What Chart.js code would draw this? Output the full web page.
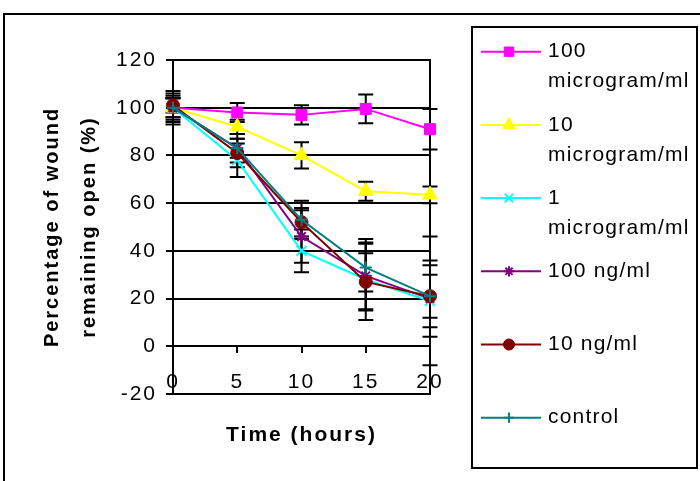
<!DOCTYPE html>
<html>
<head>
<meta charset="utf-8">
<script src="https://cdn.jsdelivr.net/npm/chart.js@4"></script>
<style>
  html, body { margin: 0; padding: 0; background: #fff; }
  #wrap { width: 700px; height: 481px; }
</style>
</head>
<body>
<div id="wrap"><canvas id="graficoFerida" width="700" height="481"></canvas></div>
<script>
// time points (hours)
const times = [0, 5, 10, 15, 20];

// % wound remaining open
const ug100 = [100, 98, 97, 99.5, 91];
const ug10 = [100, 92, 80, 65, 63.5];
const ug1 = [100, 78, 40, 28, 19];
const ng100 = [100, 83, 46, 29.5, 20];
const ng10 = [101, 81, 52, 27, 21];
const control = [100, 83, 53, 33, 21];

// error bar half widths
const ug100Err = [4, 4, 4, 6, 8.5];
const ug10Err = [4, 3, 5.5, 4, 3.5];
const ug1Err = [6, 7, 9, 17, 27];
const ng100Err = [5, 6, 11, 14, 16];
const ng10Err = [3, 6, 6, 12, 13];
const controlErr = [7, 4, 8, 10, 9];

const seriesNames = [
  ["100", "microgram/ml"],
  ["10", "microgram/ml"],
  ["1", "microgram/ml"],
  ["100 ng/ml"],
  ["10 ng/ml"],
  ["control"]
];

const yTitle = ["Percentage of wound", "remaining open (%)"];
const xTitle = "Time (hours)";

const values = [ug100, ug10, ug1, ng100, ng10, control];
const errors = [ug100Err, ug10Err, ug1Err, ng100Err, ng10Err, controlErr];

const colors = ["#ff00ff", "#ffff00", "#00ffff", "#800080", "#800000", "#008080"];
const markers = ["rect", "triangle", "crossRot", "star", "circle", "cross"];
const markerSize = [7.8, 8.5, 7, 6, 6.5, 6];
const markerBorder = [1, 1, 2, 2, 1, 2];

const fontFamily = "'Liberation Sans', Arial, sans-serif";
Chart.defaults.color = "#000";
Chart.defaults.font.family = fontFamily;

const datasets = values.map((vals, i) => ({
  label: seriesNames[i].join(" "),
  data: times.map((t, k) => ({ x: t, y: vals[k] })),
  borderColor: colors[i],
  backgroundColor: colors[i],
  borderWidth: 2,
  pointStyle: markers[i],
  pointRadius: markerSize[i],
  pointBorderWidth: markerBorder[i],
  pointBackgroundColor: colors[i],
  pointBorderColor: colors[i],
  order: values.length - 1 - i,
  clip: false,
  tension: 0
}));

// letter spacing for the axis texts, the old Excel render is wide
const spacing = {
  id: "spacing",
  beforeDraw(chart) {
    chart.ctx.letterSpacing = "2px";
  }
};

// plot frame + outer frame, then the error bars under the lines
const errorBars = {
  id: "errorBars",
  beforeDatasetsDraw(chart) {
    const { ctx, chartArea, scales: { x, y } } = chart;
    ctx.save();
    ctx.strokeStyle = "#000";
    ctx.lineWidth = 2;
    ctx.strokeRect(chartArea.left, chartArea.top, chartArea.right - chartArea.left, chartArea.bottom - chartArea.top);
    ctx.beginPath();
    ctx.moveTo(4, 490);
    ctx.lineTo(4, 14);
    ctx.lineTo(710, 14);
    ctx.stroke();

    chart.data.datasets.forEach((ds, i) => {
      ds.data.forEach((p, k) => {
        const px = x.getPixelForValue(p.x);
        const top = y.getPixelForValue(p.y + errors[i][k]);
        const bottom = y.getPixelForValue(p.y - errors[i][k]);
        ctx.beginPath();
        ctx.moveTo(px, top);
        ctx.lineTo(px, bottom);
        ctx.moveTo(px - 7.5, top);
        ctx.lineTo(px + 7.5, top);
        ctx.moveTo(px - 7.5, bottom);
        ctx.lineTo(px + 7.5, bottom);
        ctx.stroke();
      });
    });
    ctx.restore();
  }
};

// legend in a box on the right, like the original
const legendBox = {
  id: "legendBox",
  afterDraw(chart) {
    const ctx = chart.ctx;
    ctx.save();
    ctx.letterSpacing = "1.2px";
    ctx.strokeStyle = "#000";
    ctx.lineWidth = 2;
    ctx.strokeRect(472, 27, 225, 441);
    chart.data.datasets.forEach((ds, i) => {
      const yMid = 51.7 + i * 73.2;
      ctx.strokeStyle = ds.borderColor;
      ctx.fillStyle = ds.backgroundColor;
      ctx.lineWidth = 2;
      ctx.beginPath();
      ctx.moveTo(481, yMid);
      ctx.lineTo(541, yMid);
      ctx.stroke();
      ctx.lineWidth = markerBorder[i];
      Chart.helpers.drawPoint(ctx, {
        pointStyle: ds.pointStyle,
        rotation: 0,
        radius: ds.pointRadius * 0.85,
        borderWidth: markerBorder[i]
      }, 509, yMid);
      ctx.fillStyle = "#000";
      ctx.font = "21px " + fontFamily;
      ctx.textAlign = "left";
      ctx.textBaseline = "middle";
      seriesNames[i].forEach((line, k) => ctx.fillText(line, 548, yMid + k * 30));
    });
    ctx.restore();
  }
};

const ctx = document.querySelector("#graficoFerida");

new Chart(ctx, {
  type: "line",
  data: { datasets: datasets },
  options: {
    responsive: false,
    animation: false,
    layout: { padding: { left: 0, top: 60, right: 270, bottom: 87 } },
    plugins: {
      legend: { display: false },
      tooltip: { enabled: false }
    },
    scales: {
      x: {
        type: "linear",
        min: 0,
        max: 20,
        position: { y: 0 },
        afterFit: (scale) => { scale.height = 87; },
        ticks: {
          stepSize: 5,
          maxRotation: 0,
          padding: 16,
          color: "#000",
          font: { size: 21 }
        },
        grid: {
          drawOnChartArea: false,
          drawTicks: true,
          tickLength: 7,
          color: "#000",
          lineWidth: 2
        },
        border: { display: false },
        title: {
          display: true,
          text: xTitle,
          color: "#000",
          font: { size: 21, weight: "bold" },
          padding: { top: 0, bottom: -14.6 }
        }
      },
      y: {
        min: -20,
        max: 120,
        afterFit: (scale) => { scale.width = 173; },
        ticks: {
          stepSize: 20,
          padding: 9,
          color: "#000",
          font: { size: 21 }
        },
        grid: {
          color: "#000",
          lineWidth: 2,
          tickLength: 7
        },
        border: { display: true, color: "#000", width: 2 },
        title: {
          display: true,
          text: yTitle,
          color: "#000",
          font: { size: 20, weight: "bold", lineHeight: 1.85 },
          padding: { top: 33.5, bottom: 0 }
        }
      }
    }
  },
  plugins: [spacing, errorBars, legendBox]
});
</script>
</body>
</html>
